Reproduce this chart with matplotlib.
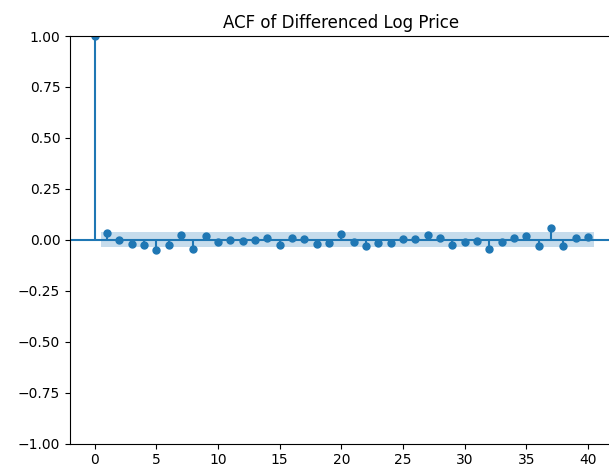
import matplotlib
matplotlib.use("Agg")
import matplotlib.pyplot as plt
import numpy as np

# ACF values (lags 0..40)
lags = list(range(0, 41))
acf_values = [
    1.0,
    0.033, -0.002, -0.020, -0.024, -0.049, -0.028, 0.024, -0.046, 0.016, -0.011,
    0.000, -0.005, 0.000, 0.010, -0.024, 0.010, 0.005, -0.023, -0.018, 0.030,
    -0.011, -0.033, -0.018, -0.018, 0.006, 0.006, 0.023, 0.010, -0.028, -0.011,
    -0.005, -0.044, -0.011, 0.010, 0.016, -0.033, 0.059, -0.033, 0.010, 0.013,
]
conf_half_width = 0.036  # 95% confidence band half-width
title = "ACF of Differenced Log Price"
yticks = [-1.0, -0.75, -0.5, -0.25, 0.0, 0.25, 0.5, 0.75, 1.0]
xticks = [0, 5, 10, 15, 20, 25, 30, 35, 40]

fig = plt.figure(figsize=(6.09, 4.70), dpi=100)
ax = fig.add_axes([70 / 609, 1 - 443.5 / 470, 542.6 / 609, 407.5 / 470])

x = np.array(lags, dtype=float)
y = np.array(acf_values)

ax.vlines(x, [0], y, color="C0")
ax.axhline(0, color="C0")
ax.plot(x, y, marker="o", markersize=5, linestyle="None", color="C0")

band_x = x[1:].copy()
band_x[0] -= 0.5
band_x[-1] += 0.5
hw = np.full(len(band_x), conf_half_width)
ax.fill_between(band_x, -hw, hw, alpha=0.25, color="C0", linewidth=0)

ax.set_xlim(-2, 42)
ax.set_ylim(-1, 1)
ax.set_xticks(xticks)
ax.set_yticks(yticks)
ax.set_title(title, fontsize=12)

fig.savefig("out.png", dpi=100)
